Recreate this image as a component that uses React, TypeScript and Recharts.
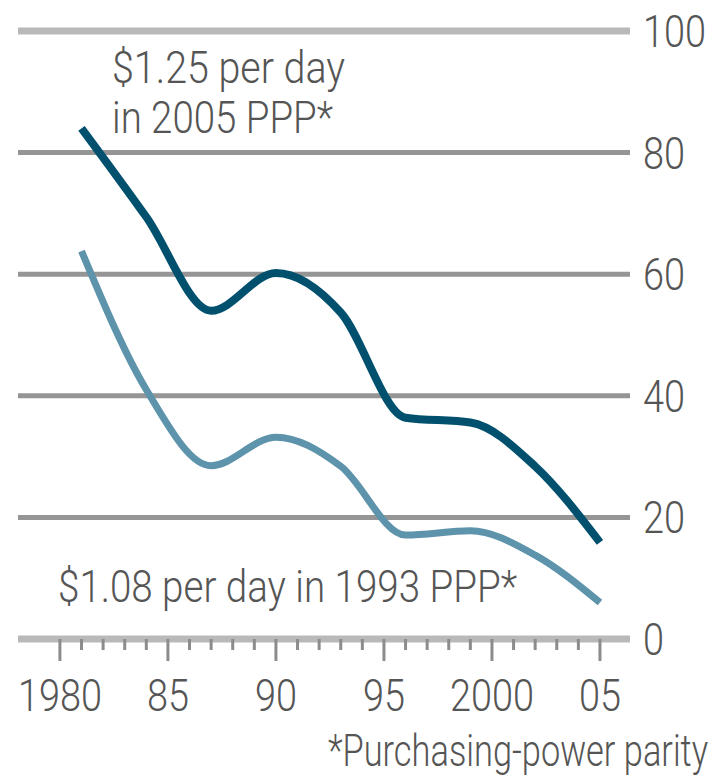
import React from "react";
import { LineChart, Line, XAxis, YAxis, CartesianGrid } from "recharts";

// Share of population below the poverty line, %
const YEARS = [1981, 1984, 1987, 1990, 1993, 1996, 1999, 2002, 2005];
const LINE_125_2005PPP = [84.0, 69.4, 54.0, 60.2, 53.7, 36.4, 35.6, 28.4, 15.9];
const LINE_108_1993PPP = [63.8, 41.0, 28.5, 33.2, 28.4, 17.1, 17.8, 13.8, 6.0];

const Y_TICKS = [0, 20, 40, 60, 80, 100];
const X_TICKS = [
  1980, 1981, 1982, 1983, 1984, 1985, 1986, 1987, 1988, 1989, 1990, 1991, 1992,
  1993, 1994, 1995, 1996, 1997, 1998, 1999, 2000, 2001, 2002, 2003, 2004, 2005,
];
const X_LABELS: Record<number, string> = {
  1980: "1980", 1985: "85", 1990: "90", 1995: "95", 2000: "2000", 2005: "05",
};

const data = YEARS.map((year, i) => ({
  year,
  high: LINE_125_2005PPP[i],
  low: LINE_108_1993PPP[i],
}));

const W = 710;
const H = 776;
const TOP = 31;
const BOTTOM = 639;
const FONT = "Roboto, 'Liberation Sans', sans-serif";
const TEXT = "#555555";
const WEIGHT = 300;
const DIGIT_W = 21;

function YearTick(props: any) {
  const { x, y, payload } = props;
  const yr = payload.value as number;
  const major = yr % 5 === 0;
  const label = X_LABELS[yr];
  return (
    <g>
      <line x1={x} x2={x} y1={y} y2={y + (major ? 22 : 11)} stroke="#8c8c8c" strokeWidth={3} />
      {label && (
        <text
          x={x}
          y={y + 72}
          textAnchor="middle"
          fontFamily={FONT}
          fontWeight={WEIGHT}
          fontSize={44}
          fill={TEXT}
          textLength={label.length * DIGIT_W}
          lengthAdjust="spacingAndGlyphs"
        >
          {label}
        </text>
      )}
    </g>
  );
}

function PctTick(props: any) {
  const { x, y, payload } = props;
  const s = String(payload.value);
  return (
    <text
      x={x}
      y={y + 16}
      textAnchor="start"
      fontFamily={FONT}
      fontWeight={WEIGHT}
      fontSize={44}
      fill={TEXT}
      textLength={s.length * DIGIT_W}
      lengthAdjust="spacingAndGlyphs"
    >
      {s}
    </text>
  );
}

function GridLine(props: any) {
  const { x1, x2, y1, y2, index } = props;
  const edge = Math.abs(y1 - TOP) < 3 || Math.abs(y1 - BOTTOM) < 3;
  return (
    <line
      key={`g-${index}`}
      x1={x1}
      x2={x2}
      y1={y1}
      y2={y2}
      stroke={edge ? "#b9b9b9" : "#959595"}
      strokeWidth={edge ? 7 : 5}
    />
  );
}

function Note({ x, y, w, children, anchor = "start" }: any) {
  return (
    <text
      x={x}
      y={y}
      textAnchor={anchor}
      fontFamily={FONT}
      fontWeight={WEIGHT}
      fontSize={44}
      fill={TEXT}
      textLength={w}
      lengthAdjust="spacingAndGlyphs"
    >
      {children}
    </text>
  );
}

export default function App() {
  return (
    <div style={{ position: "absolute", left: 0, top: 0, width: W, height: H, background: "#fff" }}>
      <LineChart
        width={W}
        height={H}
        data={data}
        margin={{ top: TOP, right: 0, left: 18, bottom: 0 }}
      >
        <CartesianGrid vertical={false} horizontal={GridLine} />
        <XAxis
          dataKey="year"
          type="number"
          domain={[1978.06, 2006.39]}
          ticks={X_TICKS}
          interval={0}
          allowDataOverflow
          axisLine={false}
          tickLine={false}
          tickSize={0}
          tickMargin={0}
          height={H - BOTTOM}
          tick={<YearTick />}
        />
        <YAxis
          orientation="right"
          domain={[0, 100]}
          ticks={Y_TICKS}
          interval={0}
          axisLine={false}
          tickLine={false}
          tickSize={0}
          tickMargin={13}
          width={80}
          tick={<PctTick />}
        />
        <Line
          dataKey="low"
          type="monotone"
          stroke="#5e93ac"
          strokeWidth={7}
          dot={false}
          isAnimationActive={false}
        />
        <Line
          dataKey="high"
          type="monotone"
          stroke="#00506e"
          strokeWidth={8}
          dot={false}
          isAnimationActive={false}
        />
      </LineChart>
      <svg width={W} height={H} style={{ position: "absolute", left: 0, top: 0, pointerEvents: "none" }}>
        <Note x={112} y={83} w={233}>$1.25 per day</Note>
        <Note x={112} y={133} w={221}>in 2005 PPP*</Note>
        <Note x={58} y={602} w={459}>$1.08 per day in 1993 PPP*</Note>
        <Note x={708} y={766} w={380} anchor="end">*Purchasing-power parity</Note>
      </svg>
    </div>
  );
}
